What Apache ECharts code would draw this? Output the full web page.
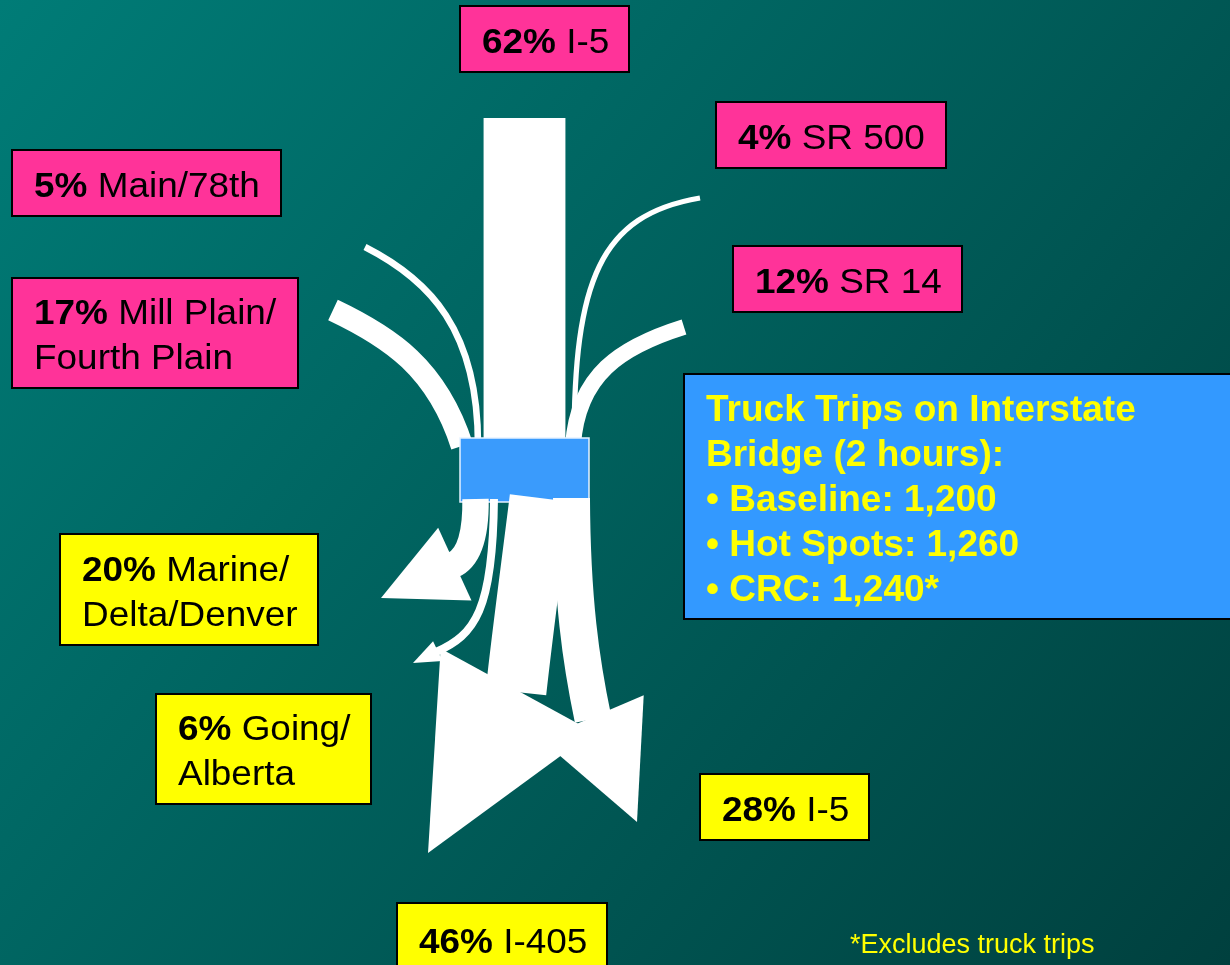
<!DOCTYPE html>
<html>
<head>
<meta charset="utf-8">
<script src="https://cdn.jsdelivr.net/npm/echarts@6.0.0/dist/echarts.min.js"></script>
<style>
  html, body { margin: 0; padding: 0; }
  #main { width: 1230px; height: 965px; }
</style>
</head>
<body>
<div id="main"></div>
<script>
// share of trips entering / leaving the bridge (%)
const inNames = ['I-5', 'Main/78th', 'Mill Plain/\nFourth Plain', 'SR 500', 'SR 14'];
const inPcts = [62, 5, 17, 4, 12];
const outNames = ['Marine/\nDelta/Denver', 'Going/\nAlberta', 'I-405', 'I-5'];
const outPcts = [20, 6, 46, 28];
// truck trips on the bridge, 2 hours
const scenarios = ['Baseline', 'Hot Spots', 'CRC'];
const truckTrips = [1200, 1260, 1240];
const scenarioNotes = ['', '', '*'];

// layout (axis units = pixels)
const PX_PER_PCT = 1.32;
const inRoutes = [
  [[524.5, 118], [524.5, 220], [524.5, 340], [524.5, 445]],
  [[365, 247], [430, 280], [478, 330], [478, 445]],
  [[333, 310], [390, 337], [437, 368], [462, 446]],
  [[700, 198], [600, 215], [574, 280], [574, 445]],
  [[684, 327], [620, 347], [578, 375], [573, 445]]
];
const outRoutes = [
  [[475.5, 499], [476, 530], [471, 557], [453, 565]],
  [[494, 499], [493, 610], [475, 635], [436, 652]],
  [[540, 498], [532, 563], [523, 628], [516, 692]],
  [[571.5, 498], [572, 600], [581, 662], [593, 719]]
];
const outTips = [[381, 598], [413, 663], [428, 853], [637, 822]];
const outHeadHalf = [40, 11, 87, 56];
const bridgeRect = [460, 438, 129, 64];

const inBoxes = [[460, 6, 169, 66], [12, 150, 269, 66], [12, 278, 286, 110], [716, 102, 230, 66], [733, 246, 229, 66]];
const outBoxes = [[60, 534, 258, 111], [156, 694, 215, 110], [397, 903, 210, 72], [700, 774, 169, 66]];
const LABEL_FONT = '"Liberation Sans", Arial, sans-serif';

function shaft(api, route, pct) {
  const p = route.map(pt => api.coord(pt));
  const w = api.size([pct * PX_PER_PCT, 0])[0];
  return {
    type: 'bezierCurve',
    shape: {
      x1: p[0][0], y1: p[0][1],
      cpx1: p[1][0], cpy1: p[1][1],
      cpx2: p[2][0], cpy2: p[2][1],
      x2: p[3][0], y2: p[3][1]
    },
    style: { stroke: '#fff', fill: null, lineWidth: w, lineCap: 'butt' }
  };
}

function head(api, route, tipPt, half) {
  const b = api.coord(route[3]);
  const t = api.coord(tipPt);
  const h = api.size([half, 0])[0];
  let dx = t[0] - b[0], dy = t[1] - b[1];
  const len = Math.sqrt(dx * dx + dy * dy);
  dx /= len; dy /= len;
  const bx = b[0] - dx * 2, by = b[1] - dy * 2;
  const px = -dy, py = dx;
  return {
    type: 'polygon',
    shape: { points: [[bx + px * h, by + py * h], t, [bx - px * h, by - py * h]] },
    style: { fill: '#fff' }
  };
}

function labelBox(box, pct, name, fill) {
  const lines = name.split('\n').length;
  const lh = 45;
  return {
    type: 'group',
    children: [
      {
        type: 'rect',
        shape: { x: box[0], y: box[1], width: box[2], height: box[3] },
        style: { fill: fill, stroke: '#000', lineWidth: 2 }
      },
      {
        type: 'text',
        x: box[0] + 22,
        y: box[1] + box[3] / 2 - lines * lh / 2 + 4,
        scaleX: 1.055,
        style: {
          text: '{b|' + pct + '%} ' + name,
          font: '35px ' + LABEL_FONT,
          fill: '#000',
          lineHeight: lh,
          align: 'left', verticalAlign: 'top',
          rich: { b: { font: 'bold 35px ' + LABEL_FONT, lineHeight: lh, fill: '#000' } }
        }
      }
    ]
  };
}

const bridgeLines = ['Truck Trips on Interstate', 'Bridge (2 hours):'].concat(
  scenarios.map((s, i) => '\u2022 ' + s + ': ' + truckTrips[i].toLocaleString('en-US') + scenarioNotes[i])
);

const graphics = [];
inBoxes.forEach((b, i) => graphics.push(labelBox(b, inPcts[i], inNames[i], '#FF3399')));
outBoxes.forEach((b, i) => graphics.push(labelBox(b, outPcts[i], outNames[i], '#FFFF00')));
graphics.push({
  type: 'rect',
  shape: { x: 684, y: 374, width: 560, height: 245 },
  style: { fill: '#3399FF', stroke: '#000', lineWidth: 2 }
});
graphics.push({
  type: 'text',
  x: 706, y: 388,
  style: {
    text: bridgeLines.join('\n'),
    font: 'bold 37px ' + LABEL_FONT,
    fill: '#FFFF00',
    lineHeight: 45,
    align: 'left', verticalAlign: 'top'
  }
});
graphics.push({
  type: 'text',
  x: 850, y: 946,
  style: {
    text: '*Excludes truck trips',
    font: '27px ' + LABEL_FONT,
    fill: '#FFFF00',
    align: 'left', verticalAlign: 'middle'
  }
});

var myChart = echarts.init(document.getElementById('main'));
myChart.setOption({
  animation: false,
  backgroundColor: new echarts.graphic.LinearGradient(0, 0, 1, 1, [
    { offset: 0, color: '#007C77' },
    { offset: 1, color: '#00403E' }
  ]),
  grid: { left: 0, right: 0, top: 0, bottom: 0 },
  xAxis: { type: 'value', min: 0, max: 1230, show: false },
  yAxis: { type: 'value', min: 0, max: 965, inverse: true, show: false },
  graphic: graphics,
  series: [
    {
      name: 'Inbound',
      type: 'custom',
      z: 2,
      clip: false,
      silent: true,
      data: inPcts.map((p, i) => ({ name: inNames[i], value: [p, i] })),
      renderItem: function (params, api) {
        return shaft(api, inRoutes[params.dataIndex], api.value(0));
      }
    },
    {
      name: 'Bridge',
      type: 'custom',
      z: 3,
      clip: false,
      silent: true,
      data: [[0, 0]],
      renderItem: function (params, api) {
        const p = api.coord([bridgeRect[0], bridgeRect[1]]);
        const s = api.size([bridgeRect[2], bridgeRect[3]]);
        return {
          type: 'rect',
          shape: { x: p[0], y: p[1], width: s[0], height: s[1] },
          style: { fill: '#3A9BFC', stroke: '#E6F2FF', lineWidth: 1.5 }
        };
      }
    },
    {
      name: 'Outbound',
      type: 'custom',
      z: 4,
      clip: false,
      silent: true,
      data: outPcts.map((p, i) => ({ name: outNames[i], value: [p, i] })),
      renderItem: function (params, api) {
        const i = params.dataIndex;
        return {
          type: 'group',
          children: [
            shaft(api, outRoutes[i], api.value(0)),
            head(api, outRoutes[i], outTips[i], outHeadHalf[i])
          ]
        };
      }
    }
  ]
});
window.addEventListener('resize', function () {
  myChart.resize();
});
</script>
</body>
</html>
